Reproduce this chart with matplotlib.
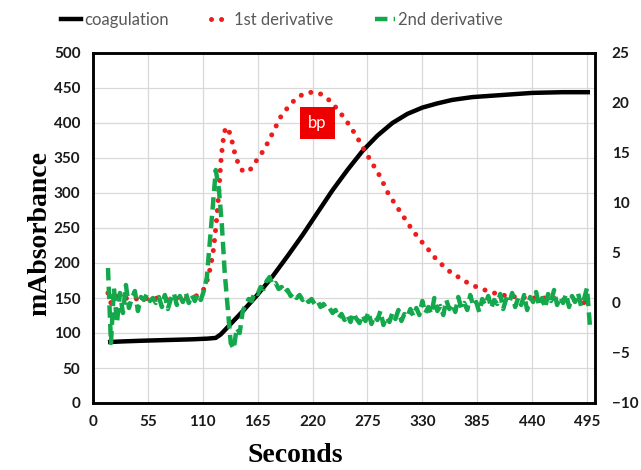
import matplotlib
matplotlib.use("Agg")
import matplotlib.pyplot as plt
from matplotlib.lines import Line2D

# ---------------- data ----------------
coag_x = [15, 30, 50, 75, 100, 115, 123, 128, 138, 150, 165, 180, 195, 210, 225, 240, 255, 270, 285,
          300, 315, 330, 345, 360, 380, 410, 440, 470, 498]
coag_y = [87, 88, 89, 90, 91, 92, 93, 98, 113, 131, 155, 181, 210, 240, 272, 304, 333, 360, 382,
          400, 413, 422, 428, 433, 437, 440, 443, 444, 444]

d1_x = [15, 18, 22, 30, 45, 60, 75, 90, 100, 106, 110, 113, 116, 118, 120, 122, 124, 126, 128, 130,
        132, 134, 136, 139, 142, 146, 150, 154, 158, 162, 168, 175, 182, 188, 194, 200, 207, 214, 221,
        228, 234, 240, 246, 252, 258, 264, 270, 276, 282, 288, 295, 302, 310, 318, 326, 334, 342, 350,
        358, 366, 374, 382, 390, 398, 406, 415, 425, 440, 455, 470, 482, 490, 495]
d1_y = [1.0, 0.0, 0.7, 0.5, 0.4, 0.5, 0.4, 0.5, 0.6, 0.8, 1.2, 1.8, 2.8, 3.8, 4.8, 6.5, 8.5, 11.0, 14.0, 16.0,
        17.2, 17.6, 17.3, 16.3, 15.0, 13.8, 13.2, 13.1, 13.4, 14.0, 14.8, 16.0, 17.4, 18.6, 19.4, 20.1, 20.7, 21.0, 21.1,
        20.9, 20.5, 20.0, 19.2, 18.5, 17.6, 16.7, 15.6, 14.6, 13.6, 12.6, 11.1, 10.0, 8.8, 7.6, 6.5, 5.6, 4.6, 3.8,
        3.1, 2.6, 2.1, 1.7, 1.4, 1.1, 0.9, 0.7, 0.6, 0.5, 0.5, 0.4, 0.3, 0.0, 0.1]

d2_x = list(range(15, 499, 3))
d2_y = [3.5, -4.0, 1.5, -2.0, 1.0, -1.0, 1.8, -0.5, 0.5, 1.2, -0.8, 0.6, 0.3, 0.9, 0.2, 0.5,
        0.0, 0.6, -0.4, 0.8, -0.6, 0.4, 1.0, -0.2, 0.7, 0.1, 1.0, 0.0, 0.8, 0.2, 0.9, 0.3,
        1.2, 2.5, 6.0, 9.6, 13.3, 11.5, 8.0, 3.0, -0.5, -4.0, -4.6, -2.5, -3.0, -0.8, -0.2, 0.4,
        0.2, 1.1, 0.9, 1.6, 1.4, 2.2, 2.6, 1.8, 2.0, 1.4, 1.6, 1.0, 1.3, 0.7, 1.0, 0.5,
        0.8, 0.3, 0.6, 0.1, 0.4, -0.1, 0.2, -0.4, -0.1, -0.6, -0.5, -1.0, -0.7, -1.5, -1.1, -1.7,
        -1.2, -1.9, -1.0, -1.6, -2.0, -1.2, -1.8, -0.9, -2.1, -1.3, -1.7, -0.8, -2.2, -1.4, -1.9, -1.0,
        -1.6, -0.7, -1.8, -1.1, -1.4, -0.6, -1.3, -0.5, -1.2, 0.2, -1.0, -0.4, -1.1, 0.5, -0.8, -0.3,
        -1.2, 0.3, -0.6, -0.1, -0.9, 0.6, -0.5, 0.0, -0.7, 0.8, -0.3, 0.1, -0.9, 0.4, -0.2, 0.7,
        -0.5, 0.3, -0.1, 0.9, -0.6, 0.4, 0.0, 1.0, -0.4, 0.5, -0.2, 0.8, -0.7, 0.6, 0.1, 1.1,
        -0.3, 0.5, -0.5, 0.9, 0.2, 1.3, -0.2, 0.6, 0.0, 0.9, -0.4, 0.7, 0.1, 1.0, -0.3, 0.4,
        1.5, -2.4]

x_ticks = [0, 55, 110, 165, 220, 275, 330, 385, 440, 495]
left_ticks = [0, 50, 100, 150, 200, 250, 300, 350, 400, 450, 500]
right_ticks = [-10, -5, 0, 5, 10, 15, 20, 25]
series_names = ["coagulation", "1st derivative", "2nd derivative"]

# ---------------- style ----------------
W, H = 641, 470
fig = plt.figure(figsize=(W / 100, H / 100), dpi=100)
L, R, T, B = 93, 595, 53, 403
ax = fig.add_axes([L / W, 1 - B / H, (R - L) / W, (B - T) / H])
ax2 = ax.twinx()

RED = "#ee1c1c"
GREEN = "#14a84c"

ax.plot(coag_x, coag_y, color="black", lw=3.2, solid_capstyle="butt", solid_joinstyle="round", zorder=3)
ax2.plot(d1_x, d1_y, color=RED, lw=3.6, linestyle=(0, (0.01, 2.0)),
         dash_capstyle="round", zorder=3)
ax2.plot(d2_x, d2_y, color=GREEN, lw=3.2, linestyle=(0, (2.8, 1.4)),
         dash_capstyle="butt", zorder=4)

ax.set_xlim(0, 503)
ax.set_ylim(0, 500)
ax2.set_ylim(-10, 25)
ax.set_xticks(x_ticks)
ax.set_yticks(left_ticks)
ax2.set_yticks(right_ticks)
ax.grid(True, color="#d9d9d9", lw=0.9)
ax.set_axisbelow(True)

for a in (ax, ax2):
    a.tick_params(length=0)
    for s in a.spines.values():
        s.set_linewidth(1.8)
        s.set_color("black")
ax.tick_params(axis="x", pad=9)
ax.tick_params(axis="y", pad=9)
ax2.tick_params(axis="y", pad=12)
for lab in ax.get_xticklabels() + ax.get_yticklabels() + ax2.get_yticklabels():
    lab.set_fontfamily("Lato")
    lab.set_fontweight("bold")
    lab.set_fontsize(11)
    lab.set_color("#1a1a1a")

fig.text(40 / W, 1 - 233 / H, "mAbsorbance", rotation=90, ha="center", va="center",
         family="Liberation Serif", weight="bold", size=20)
fig.text(295 / W, 1 - 456 / H, "Seconds", ha="center", va="center",
         family="Liberation Serif", weight="bold", size=20)

ax2.text(225, 18.0, "bp", color="white", ha="center", va="center", size=12, family="Lato",
         bbox=dict(boxstyle="square,pad=0.5", fc="#ee0000", ec="none"), zorder=6)

handles = [
    Line2D([], [], color="black", lw=3.2),
    Line2D([], [], color=RED, lw=3.6, linestyle=(0, (0.01, 2.0)), dash_capstyle="round"),
    Line2D([], [], color=GREEN, lw=3.2, linestyle=(0, (2.8, 1.4))),
]
leg = fig.legend(handles, series_names, loc="center", bbox_to_anchor=(0.44, 1 - 20 / H),
                 ncol=3, frameon=False, handlelength=1.2, handletextpad=0.2, columnspacing=2.5,
                 prop=dict(family="Lato", size=12))
for t in leg.get_texts():
    t.set_color("#595959")

fig.savefig("out.png", dpi=100)
